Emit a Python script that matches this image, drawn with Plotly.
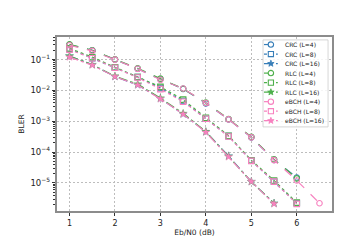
import math
import plotly.graph_objects as go

# ---------------- data ----------------
snr_11 = [1, 1.5, 2, 2.5, 3, 3.5, 4, 4.5, 5, 5.5, 6]
snr_12 = [1, 1.5, 2, 2.5, 3, 3.5, 4, 4.5, 5, 5.5, 6, 6.5]
snr_10 = [1, 1.5, 2, 2.5, 3, 3.5, 4, 4.5, 5, 5.5]

crc_l4 = [0.30, 0.20, 0.100, 0.050, 0.023, 0.0112, 0.0038, 0.00115, 0.00030, 5.6e-5, 1.5e-5]
rlc_l4 = [0.31, 0.20, 0.101, 0.052, 0.024, 0.0113, 0.0040, 0.00118, 0.00031, 5.8e-5, 1.4e-5]
ebch_l4 = [0.29, 0.19, 0.099, 0.050, 0.022, 0.0115, 0.0039, 0.00115, 0.00030, 5.5e-5, 1.2e-5, 2.2e-6]

crc_l8 = [0.22, 0.11, 0.055, 0.027, 0.012, 0.0045, 0.0012, 0.00033, 5.3e-5, 1.1e-5, 2.2e-6]
rlc_l8 = [0.23, 0.12, 0.056, 0.027, 0.013, 0.0050, 0.0013, 0.00034, 5.4e-5, 1.2e-5, 2.3e-6]
ebch_l8 = [0.21, 0.11, 0.054, 0.026, 0.011, 0.0043, 0.0012, 0.00032, 5.2e-5, 1.1e-5, 2.1e-6]

crc_l16 = [0.13, 0.068, 0.028, 0.015, 0.0054, 0.0017, 0.00045, 7.5e-5, 1.1e-5, 2.2e-6]
rlc_l16 = [0.13, 0.068, 0.029, 0.016, 0.0056, 0.0018, 0.00046, 7.3e-5, 1.1e-5, 2.2e-6]
ebch_l16 = [0.12, 0.066, 0.028, 0.015, 0.0053, 0.0017, 0.00044, 7.0e-5, 1.1e-5, 2.1e-6]

x_ticks = [1, 2, 3, 4, 5, 6]
y_tick_vals = [1e-5, 1e-4, 1e-3, 1e-2, 1e-1]
y_tick_text = ["10<sup>−5</sup>", "10<sup>−4</sup>", "10<sup>−3</sup>", "10<sup>−2</sup>", "10<sup>−1</sup>"]

# ---------------- styling ----------------
BLUE, GREEN, PINK = "#377eb8", "#4daf4a", "#f781bf"
FONT = "DejaVu Sans"

series = [
    ("CRC (L=4)", snr_11, crc_l4, BLUE, "dash", "circle-open"),
    ("CRC (L=8)", snr_11, crc_l8, BLUE, "dot", "square-open"),
    ("CRC (L=16)", snr_10, crc_l16, BLUE, "dashdot", "star"),
    ("RLC (L=4)", snr_11, rlc_l4, GREEN, "dash", "circle-open"),
    ("RLC (L=8)", snr_11, rlc_l8, GREEN, "dot", "square-open"),
    ("RLC (L=16)", snr_10, rlc_l16, GREEN, "dashdot", "star"),
    ("eBCH (L=4)", snr_12, ebch_l4, PINK, "dash", "circle-open"),
    ("eBCH (L=8)", snr_11, ebch_l8, PINK, "dot", "square-open"),
    ("eBCH (L=16)", snr_10, ebch_l16, PINK, "dashdot", "star"),
]

fig = go.Figure()
for name, xs, ys, col, dash, sym in series:
    fig.add_trace(go.Scatter(
        x=xs, y=ys, name=name, mode="lines+markers",
        line=dict(color=col, width=1.2, dash=dash),
        marker=dict(symbol=sym, size=5.5 if sym != "star" else 6,
                    color=col, line=dict(color=col, width=1.1 if sym != "star" else 0.3)),
        showlegend=False,
    ))

# plot area in pixels: left 45, right 324, top 29, bottom 209
L, R, T, B = 45, 324, 29, 209
def px(x):
    return (x - L) / (R - L)
def py(y):
    return (B - y) / (B - T)

# star outline (pixels, relative to its centre)
pts = []
for k in range(10):
    r = 3.4 if k % 2 == 0 else 1.4
    a = math.pi / 2 + k * math.pi / 5
    pts.append((r * math.cos(a), r * math.sin(a)))
star_path = "M " + " L ".join(f"{x:.2f},{y:.2f}" for x, y in pts) + " Z"

shapes = [dict(type="rect", xref="paper", yref="paper",
               x0=px(254), x1=px(320), y0=py(122), y1=py(32),
               fillcolor="rgba(255,255,255,0.85)",
               line=dict(color="#cccccc", width=0.8), layer="above")]
annotations = []
row0, dy = 36.8, 9.85
for i, (name, xs, ys, col, dash, sym) in enumerate(series):
    yy = row0 + i * dy
    shapes.append(dict(type="line", xref="paper", yref="paper",
                       x0=px(255), x1=px(269), y0=py(yy), y1=py(yy),
                       line=dict(color=col, width=1.2, dash=dash), layer="above"))
    mk = dict(xref="paper", yref="paper", xsizemode="pixel", ysizemode="pixel",
              xanchor=px(262), yanchor=py(yy), layer="above")
    if sym == "circle-open":
        shapes.append(dict(type="circle", x0=-2.7, x1=2.7, y0=-2.7, y1=2.7,
                           fillcolor="white", line=dict(color=col, width=1.1), **mk))
    elif sym == "square-open":
        shapes.append(dict(type="rect", x0=-2.6, x1=2.6, y0=-2.6, y1=2.6,
                           fillcolor="white", line=dict(color=col, width=1.1), **mk))
    else:
        shapes.append(dict(type="path", path=star_path,
                           fillcolor=col, line=dict(color=col, width=0.8), **mk))
    annotations.append(dict(xref="paper", yref="paper", x=px(274), y=py(yy),
                            text=name, showarrow=False, xanchor="left", yanchor="middle",
                            font=dict(family=FONT, size=6, color="#222222")))

fig.update_layout(
    width=360, height=240,
    margin=dict(l=L, r=360 - R, t=T, b=240 - B),
    paper_bgcolor="white", plot_bgcolor="white",
    font=dict(family=FONT, size=8, color="#222222"),
    shapes=shapes, annotations=annotations,
    showlegend=False,
)
fig.update_xaxes(
    range=[0.725, 6.775], tickvals=x_ticks,
    showgrid=True, gridcolor="#bdbdbd", griddash="2px,2px", gridwidth=0.8,
    showline=True, linecolor="#8c8c8c", linewidth=1.5, mirror=True,
    ticks="outside", ticklen=3.5, tickcolor="#333333",
    zeroline=False,
    title=dict(text="Eb/N0 (dB)", standoff=3, font=dict(size=7.5)),
    tickfont=dict(size=8),
)
fig.update_yaxes(
    type="log", range=[-5.91, -0.27],
    tickvals=y_tick_vals, ticktext=y_tick_text,
    showgrid=True, gridcolor="#bdbdbd", griddash="2px,2px", gridwidth=0.8,
    showline=True, linecolor="#8c8c8c", linewidth=1.5, mirror=True,
    ticks="outside", ticklen=3.5, tickcolor="#333333",
    minor=dict(ticks="outside", ticklen=2, tickcolor="#333333", dtick="D1", showgrid=False),
    zeroline=False,
    title=dict(text="BLER", standoff=5, font=dict(size=7.5)),
    tickfont=dict(size=8.5),
)

fig.write_html("out.html")
